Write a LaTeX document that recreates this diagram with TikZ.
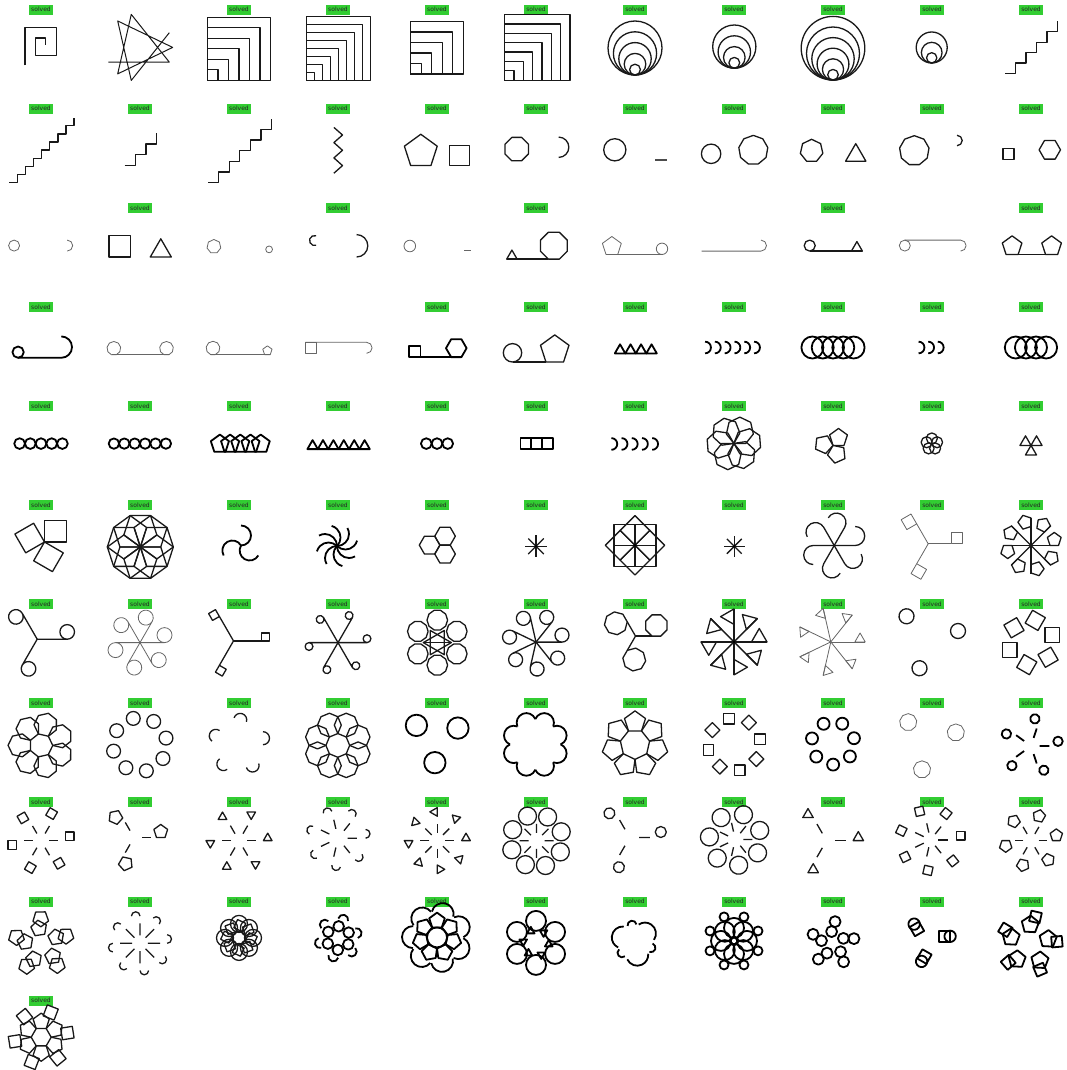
\documentclass[tikz,border=0pt]{standalone}
\usepackage{fontspec}
\setmainfont{DejaVu Sans}
\definecolor{solvedgreen}{RGB}{50,205,50}

% turtle polygon: start point, heading, sides, side length
\newcommand{\tpoly}[5][]{%
  \draw[#1] #2 \foreach \k in {2,...,#4}{ -- ++({#3+(\k-2)*360/#4}:#5)} -- cycle;}
% regular polygon: centre, sides, circumradius, angle of first corner
\newcommand{\rpoly}[5][]{%
  \draw[#1, shift={#2}] ({#5}:#4) \foreach \k in {1,...,#3}{ -- ({#5+\k*360/#3}:#4)} -- cycle;}
% green tag above cell (col,row)
\newcommand{\solved}[2]{\node[tag] (s#2-#1) at ({41+99*#1},{-9.6-99.1*#2}) {solved};}

\begin{document}
\begin{tikzpicture}[
  x=1pt, y=1pt,
  tag/.style={fill=solvedgreen, minimum width=24pt, minimum height=10pt,
              inner sep=0pt, text=black!85, font=\fontsize{6}{7}\selectfont},
  ln/.style={line width=1.3pt, black!90, line join=round},
  lnthin/.style={line width=0.8pt, black!60, line join=round},
  lnbold/.style={line width=1.8pt, black, line join=round},
  cell/.style 2 args={shift={({41+99*#1},{-49-99.1*#2})}}
]
  \fill[white] (0,0) rectangle (1066,-1070);
  \useasboundingbox (0,0) rectangle (1066,-1070);

  % Row 0: spiral, star, nested squares and circles
  \solved{0}{0}
  \begin{scope}[cell={0}{0}]
    \draw[ln] (-16,-16.5) -- (-16,21.4) -- (15.2,21.4) -- (15.2,-6.2) -- (-5.5,-6.2) -- (-5.5,11) -- (4.8,11) -- (4.8,4.1);
  \end{scope}
  \begin{scope}[cell={1}{0}]
    \draw[ln, line width=1pt] (-31.7,-13.1) \foreach \k in {0,...,6}{ -- ++({\k*900/7}:61)};
  \end{scope}
  \solved{2}{0}
  \begin{scope}[cell={2}{0}]
    \foreach \n in {1,...,6}{ \draw[ln] (-31.5,-31.2) rectangle ++(10.5*\n,10.5*\n); }
  \end{scope}
  \solved{3}{0}
  \begin{scope}[cell={3}{0}]
    \foreach \n in {1,...,8}{ \draw[ln] (-31.5,-31.2) rectangle ++(8*\n,8*\n); }
  \end{scope}
  \solved{4}{0}
  \begin{scope}[cell={4}{0}]
    \foreach \n in {1,...,5}{ \draw[ln] (-26.2,-25) rectangle ++(10.5*\n,10.5*\n); }
  \end{scope}
  \solved{5}{0}
  \begin{scope}[cell={5}{0}]
    \foreach \n in {1,...,7}{ \draw[ln] (-31.5,-31.2) rectangle ++(9.35*\n,9.35*\n); }
  \end{scope}
  \solved{6}{0}
  \begin{scope}[cell={6}{0}]
    \foreach \n in {1,...,5}{ \draw[ln] (0,{-26+5.4*\n}) circle[radius=5.4*\n]; }
  \end{scope}
  \solved{7}{0}
  \begin{scope}[cell={7}{0}]
    \foreach \n in {1,...,4}{ \draw[ln] (0.3,{-19.2+5.4*\n}) circle[radius=5.4*\n]; }
  \end{scope}
  \solved{8}{0}
  \begin{scope}[cell={8}{0}]
    \foreach \n in {1,...,6}{ \draw[ln] (0,{-31+5.3*\n}) circle[radius=5.3*\n]; }
  \end{scope}
  \solved{9}{0}
  \begin{scope}[cell={9}{0}]
    \foreach \n in {1,...,3}{ \draw[ln] (-0.3,{-14+5.17*\n}) circle[radius=5.17*\n]; }
  \end{scope}
  \solved{10}{0}
  \begin{scope}[cell={10}{0}]
    \draw[ln] (-25.7,-24.4) \foreach \k in {1,...,5}{ -- ++(10.4,0) -- ++(0,10.4)};
  \end{scope}

  % Row 1: stairs, zigzag, shape pairs
  \solved{0}{1}
  \begin{scope}[cell={0}{1}]
    \draw[ln] (-31.7,-34.4) \foreach \k in {1,...,8}{ -- ++(8.1,0) -- ++(0,8.1)};
  \end{scope}
  \solved{1}{1}
  \begin{scope}[cell={1}{1}]
    \draw[ln] (-15.5,-17.2) \foreach \k in {1,...,3}{ -- ++(10.7,0) -- ++(0,10.7)};
  \end{scope}
  \solved{2}{1}
  \begin{scope}[cell={2}{1}]
    \draw[ln] (-31,-34.4) \foreach \k in {1,...,6}{ -- ++(10.6,0) -- ++(0,10.6)};
  \end{scope}
  \solved{3}{1}
  \begin{scope}[cell={3}{1}]
    \draw[ln] (-4.1,20.7) -- (4.5,13.1) -- (-4.1,5.5) -- (4.5,-2.2) -- (-4.1,-9.8) -- (4.5,-17.5) -- (-4.1,-25.1);
  \end{scope}
  \solved{4}{1}
  \begin{scope}[cell={4}{1}]
    \tpoly[ln]{(-26.35,-17.4)}{0}{5}{20.3}
    \draw[ln] (12.7,-17.2) rectangle (32.4,2.8);
  \end{scope}
  \solved{5}{1}
  \begin{scope}[cell={5}{1}]
    \tpoly[ln]{(-24.15,-12.7)}{0}{8}{9.7}
    \draw[ln] (22.7,11) arc[start angle=90,end angle=-90,radius=10.15];
  \end{scope}
  \solved{6}{1}
  \begin{scope}[cell={6}{1}]
    \draw[ln] (-20.2,-1.7) circle[radius=11.1];
    \draw[line width=1.6pt, black!70] (20.2,-11.7) -- (31.5,-11.7);
  \end{scope}
  \solved{7}{1}
  \begin{scope}[cell={7}{1}]
    \draw[ln] (-22.9,-5.7) circle[radius=9.7];
    \tpoly[ln]{(14.27,-15.8)}{0}{9}{10.06}
  \end{scope}
  \solved{8}{1}
  \begin{scope}[cell={8}{1}]
    \tpoly[ln]{(-26.4,-13.1)}{0}{7}{10}
    \tpoly[ln]{(12.6,-13.1)}{0}{3}{20.3}
  \end{scope}
  \solved{9}{1}
  \begin{scope}[cell={9}{1}]
    \tpoly[ln]{(-22.8,-16.5)}{0}{9}{10.2}
    \draw[ln] (25,12.8) arc[start angle=90,end angle=-90,radius=5.2];
  \end{scope}
  \solved{10}{1}
  \begin{scope}[cell={10}{1}]
    \draw[ln] (-28,-11.4) rectangle (-17,-0.4);
    \tpoly[ln]{(13.45,-11)}{0}{6}{10.7}
  \end{scope}

  % Row 2: small pairs, joined pairs
  \begin{scope}[cell={0}{2}]
    \draw[lnthin] (-26.9,1.6) circle[radius=5.5];
    \draw[lnthin] (26.2,7.1) arc[start angle=90,end angle=-90,radius=5.5];
  \end{scope}
  \solved{1}{2}
  \begin{scope}[cell={1}{2}]
    \draw[ln] (-31,-9.8) rectangle ++(21.3,21.3);
    \tpoly[ln]{(10.3,-9.8)}{0}{3}{21}
  \end{scope}
  \begin{scope}[cell={2}{2}]
    \tpoly[lnthin]{(-28.15,-5.6)}{0}{7}{6.1}
    \draw[lnthin] (30.1,-2.2) circle[radius=3.4];
  \end{scope}
  \solved{3}{2}
  \begin{scope}[cell={3}{2}]
    \draw[ln] (-21.8,11.4) arc[start angle=70,end angle=290,radius=5];
    \draw[ln] (18.6,12.6) arc[start angle=90,end angle=-90,radius=11.2];
  \end{scope}
  \begin{scope}[cell={4}{2}]
    \draw[lnthin] (-27.2,1.2) circle[radius=5.8];
    \draw[lnthin] (27.2,-3.6) -- (33.7,-3.6);
  \end{scope}
  \solved{5}{2}
  \begin{scope}[cell={5}{2}]
    \tpoly[ln]{(-29.3,-11.9)}{0}{3}{10.4}
    \draw[ln] (-29.3,-11.9) -- (12.35,-11.9);
    \tpoly[ln]{(12.35,-11.9)}{0}{8}{11.1}
  \end{scope}
  \begin{scope}[cell={6}{2}]
    \tpoly[lnthin]{(-29,-7.3)}{0}{5}{11.7}
    \draw[lnthin] (-29,-7.3) -- (27,-7.3);
    \draw[lnthin] (27,-1.6) circle[radius=5.7];
  \end{scope}
  \begin{scope}[cell={7}{2}]
    \draw[lnthin] (-32.4,-3.9) -- (27,-3.9) arc[start angle=-90,end angle=90,radius=5.5];
  \end{scope}
  \solved{8}{2}
  \begin{scope}[cell={8}{2}]
    \draw[ln] (-23.3,1.6) circle[radius=5.5];
    \draw[ln] (-23.3,-3.9) -- (29.4,-3.9);
    \tpoly[ln]{(18.4,-3.9)}{0}{3}{11}
  \end{scope}
  \begin{scope}[cell={9}{2}]
    \draw[lnthin] (-27.2,1.6) circle[radius=5.5];
    \draw[lnthin] (-27.2,7.1) -- (28.6,7.1) arc[start angle=90,end angle=-90,radius=5.5];
  \end{scope}
  \solved{10}{2}
  \begin{scope}[cell={10}{2}]
    \tpoly[ln]{(-24.96,-7.3)}{0}{5}{12.1}
    \tpoly[ln]{(14.54,-7.3)}{0}{5}{12.1}
    \draw[ln] (-24.96,-7.3) -- (26.64,-7.3);
  \end{scope}

  % Row 3: joined pairs, rows of shapes
  \solved{0}{3}
  \begin{scope}[cell={0}{3}]
    \draw[lnbold] (-22.9,-5.85) circle[radius=5.65];
    \draw[lnbold] (-22.9,-11.5) -- (20.3,-11.5) arc[start angle=-90,end angle=90,radius=10.7];
  \end{scope}
  \begin{scope}[cell={1}{3}]
    \tpoly[lnthin]{(-28.5,-8.5)}{0}{9}{4.7}
    \tpoly[lnthin]{(24.15,-8.5)}{0}{9}{4.7}
    \draw[lnthin] (-28.5,-8.5) -- (28.85,-8.5);
  \end{scope}
  \begin{scope}[cell={2}{3}]
    \tpoly[lnthin]{(-28.35,-8.3)}{0}{9}{4.7}
    \tpoly[lnthin]{(25.56,-8.3)}{0}{5}{5.7}
    \draw[lnthin] (-28.35,-8.3) -- (31.26,-8.3);
  \end{scope}
  \begin{scope}[cell={3}{3}]
    \draw[lnthin] (-32.7,-7) rectangle ++(11,11);
    \draw[lnthin] (-32.7,4) -- (28.6,4) arc[start angle=90,end angle=-90,radius=5.5];
  \end{scope}
  \solved{4}{3}
  \begin{scope}[cell={4}{3}]
    \draw[lnbold] (-27.9,-10.8) rectangle ++(11.3,11.3);
    \draw[lnbold] (-27.9,-10.8) -- (24.45,-10.8);
    \tpoly[lnbold]{(14.15,-10.8)}{0}{6}{10.3}
  \end{scope}
  \solved{5}{3}
  \begin{scope}[cell={5}{3}]
    \draw[ln] (-23.5,-6.5) circle[radius=9.2];
    \draw[ln] (-23.5,-15.7) -- (9.94,-15.7);
    \tpoly[ln]{(9.94,-15.7)}{0}{5}{17.6}
  \end{scope}
  \solved{6}{3}
  \begin{scope}[cell={6}{3}]
    \foreach \n in {0,...,3}{ \tpoly[lnbold]{({-20.2+10.5*\n},-7.1)}{0}{3}{10.5} }
  \end{scope}
  \solved{7}{3}
  \begin{scope}[cell={7}{3}]
    \foreach \n in {0,...,5}{ \draw[lnbold] ({-28.9+9.8*\n},4.65) arc[start angle=90,end angle=-90,radius=5.85]; }
  \end{scope}
  \solved{8}{3}
  \begin{scope}[cell={8}{3}]
    \foreach \n in {0,...,4}{ \draw[lnbold] ({-20.6+10.3*\n},-1.2) circle[radius=11]; }
  \end{scope}
  \solved{9}{3}
  \begin{scope}[cell={9}{3}]
    \foreach \n in {0,...,2}{ \draw[lnbold] ({-13.4+9.6*\n},4.65) arc[start angle=90,end angle=-90,radius=5.85]; }
  \end{scope}
  \solved{10}{3}
  \begin{scope}[cell={10}{3}]
    \foreach \n in {0,...,3}{ \draw[lnbold] ({-15.2+10.1*\n},-1.2) circle[radius=11]; }
  \end{scope}

  % Row 4: rows of small shapes, small rosettes
  \solved{0}{4}
  \begin{scope}[cell={0}{4}]
    \foreach \n in {0,...,4}{ \draw[lnbold] ({-21.4+10.7*\n},1.8) circle[radius=5.35]; }
  \end{scope}
  \solved{1}{4}
  \begin{scope}[cell={1}{4}]
    \foreach \n in {0,...,5}{ \draw[lnbold] ({-26.1+10.4*\n},1.8) circle[radius=5.2]; }
  \end{scope}
  \solved{2}{4}
  \begin{scope}[cell={2}{4}]
    \foreach \n in {0,...,4}{ \tpoly[lnbold]{({-24.7+10.2*\n},-6.4)}{0}{5}{11.2} }
  \end{scope}
  \solved{3}{4}
  \begin{scope}[cell={3}{4}]
    \foreach \n in {0,...,5}{ \tpoly[lnbold]{({-30.6+10.4*\n},-3.7)}{0}{3}{10.4} }
  \end{scope}
  \solved{4}{4}
  \begin{scope}[cell={4}{4}]
    \foreach \n in {-1,0,1}{ \draw[lnbold] ({10.7*\n},1.8) circle[radius=5.35]; }
  \end{scope}
  \solved{5}{4}
  \begin{scope}[cell={5}{4}]
    \foreach \n in {0,1,2}{ \draw[lnbold] ({-15.5+10.8*\n},-3.7) rectangle ++(10.8,10.8); }
  \end{scope}
  \solved{6}{4}
  \begin{scope}[cell={6}{4}]
    \foreach \n in {0,...,4}{ \draw[lnbold] ({-23.6+10.2*\n},7.3) arc[start angle=90,end angle=-90,radius=5.85]; }
  \end{scope}
  \solved{7}{4}
  \begin{scope}[cell={7}{4}, shift={(-0.15,2)}]
    \foreach \a in {0,60,...,300}{ \tpoly[ln,rotate=\a]{(0,0)}{0}{7}{12} }
  \end{scope}
  \solved{8}{4}
  \begin{scope}[cell={8}{4}]
    \foreach \a in {0,120,240}{ \tpoly[ln,rotate=\a]{(0,0)}{0}{5}{11} }
  \end{scope}
  \solved{9}{4}
  \begin{scope}[cell={9}{4}, shift={(-0.15,1.45)}]
    \foreach \a in {90,162,...,378}{ \draw[ln] (\a:5.5) circle[radius=5.5]; }
  \end{scope}
  \solved{10}{4}
  \begin{scope}[cell={10}{4}]
    \foreach \a in {0,120,240}{ \tpoly[ln,rotate=\a]{(0,0)}{0}{3}{11} }
  \end{scope}

  % Row 5: shapes turned about a centre
  \solved{0}{5}
  \begin{scope}[cell={0}{5}, shift={(3.5,2.5)}]
    \foreach \a in {0,120,240}{ \tpoly[ln,rotate=\a]{(0,0)}{0}{4}{21.7} }
  \end{scope}
  \solved{1}{5}
  \begin{scope}[cell={1}{5}, shift={(0.35,-2.45)}]
    \foreach \a in {0,36,...,324}{ \tpoly[ln,rotate=\a]{(0,0)}{0}{5}{20.4} }
  \end{scope}
  \solved{2}{5}
  \begin{scope}[cell={2}{5}, shift={(2,-1)}]
    \foreach \a in {0,120,240}{ \draw[lnbold,rotate=\a] (0,0) arc[start angle=-90,end angle=90,radius=10]; }
  \end{scope}
  \solved{3}{5}
  \begin{scope}[cell={3}{5}, shift={(-1,-1.5)}]
    \foreach \a in {0,45,...,315}{ \draw[lnbold,rotate=\a] (0,0) arc[start angle=-90,end angle=30,radius=12]; }
  \end{scope}
  \solved{4}{5}
  \begin{scope}[cell={4}{5}, shift={(2.9,-0.6)}]
    \foreach \a in {60,180,300}{ \rpoly[ln]{(\a:10.3)}{6}{10.3}{0} }
  \end{scope}
  \solved{5}{5}
  \begin{scope}[cell={5}{5}, shift={(0,-1.8)}]
    \foreach \a in {0,45,...,315}{ \draw[ln] (0,0) -- (\a:11); }
    \fill (0,0) circle[radius=1.4];
  \end{scope}
  \solved{6}{5}
  \begin{scope}[cell={6}{5}, shift={(0,-0.8)}]
    \foreach \a in {0,45,...,315}{ \tpoly[ln,rotate=\a]{(0,0)}{0}{4}{21} }
    \fill (0,0) circle[radius=1.5];
  \end{scope}
  \solved{7}{5}
  \begin{scope}[cell={7}{5}, shift={(0.3,-1.8)}]
    \foreach \a in {0,45,...,315}{ \draw[ln] (0,0) -- (\a:10.5); }
    \fill (0,0) circle[radius=1.3];
  \end{scope}
  \solved{8}{5}
  \begin{scope}[cell={8}{5}, shift={(1.2,-1)}]
    \foreach \a in {0,60,...,300}{ \draw[ln,rotate=\a] (0,0) -- (21,0) arc[start angle=-90,end angle=90,radius=9.5]; }
  \end{scope}
  \solved{9}{5}
  \begin{scope}[cell={9}{5}, shift={(-3.8,0.7)}]
    \foreach \a in {0,120,240}{
      \draw[lnthin,rotate=\a] (0,0) -- (23,0);
      \tpoly[lnthin,rotate=\a]{(23,0)}{0}{4}{11.4} }
  \end{scope}
  \solved{10}{5}
  \begin{scope}[cell={10}{5}, shift={(0,-1)}]
    \foreach \a in {0,45,...,315}{
      \draw[ln,rotate=\a] (0,0) -- (28,0);
      \tpoly[ln,rotate=\a]{(19,0)}{0}{5}{8.5} }
  \end{scope}

  % Row 6: spokes ending in shapes
  \solved{0}{6}
  \begin{scope}[cell={0}{6}, shift={(-3.8,4.4)}]
    \foreach \a in {0,120,240}{ \draw[ln,rotate=\a] (0,0) -- (30,0) (30,7.3) circle[radius=7.3]; }
  \end{scope}
  \solved{1}{6}
  \begin{scope}[cell={1}{6}, shift={(0,1)}]
    \foreach \a in {0,60,...,300}{ \draw[lnthin,rotate=\a] (0,0) -- (24.5,0) (24.5,7.5) circle[radius=7.5]; }
  \end{scope}
  \solved{2}{6}
  \begin{scope}[cell={2}{6}, shift={(-5.5,2.7)}]
    \foreach \a in {0,120,240}{
      \draw[ln,rotate=\a] (0,0) -- (28.2,0);
      \tpoly[ln,rotate=\a]{(28.2,0)}{0}{4}{7.9} }
  \end{scope}
  \solved{3}{6}
  \begin{scope}[cell={3}{6}, shift={(0,1)}]
    \foreach \a in {0,60,...,300}{ \draw[ln,rotate=\a] (0,0) -- (29,0) (29,3.9) circle[radius=3.9]; }
  \end{scope}
  \solved{4}{6}
  \begin{scope}[cell={4}{6}, shift={(0.3,1)}]
    \foreach \a in {30,90,...,330}{ \rpoly[ln]{(\a:22.5)}{10}{10.3}{0} }
    \draw[ln] (0:14) -- (120:14) -- (240:14) -- cycle;
    \draw[ln] (60:14) -- (180:14) -- (300:14) -- cycle;
    \draw[ln] (180:14) -- (0:14);
  \end{scope}
  \solved{5}{6}
  \begin{scope}[cell={5}{6}, shift={(0,1.5)}]
    \foreach \n in {0,...,6}{ \draw[ln,rotate={\n*360/7}] (0,0) -- (26,0) (26,7) circle[radius=7]; }
  \end{scope}
  \solved{6}{6}
  \begin{scope}[cell={6}{6}, shift={(0.5,7.5)}]
    \foreach \a in {0,120,240}{
      \draw[ln,rotate=\a] (0,0) -- (16.5,0);
      \tpoly[ln,rotate=\a]{(16.5,0)}{0}{8}{8.8} }
  \end{scope}
  \solved{7}{6}
  \begin{scope}[cell={7}{6}, shift={(0,1.7)}]
    \foreach \a in {0,45,...,315}{
      \draw[ln,rotate=\a] (0,0) -- (33,0);
      \tpoly[ln,rotate=\a]{(17.5,0)}{0}{3}{15.5} }
    \fill (0,0) circle[radius=1.5];
  \end{scope}
  \solved{8}{6}
  \begin{scope}[cell={8}{6}, shift={(-2.2,1.7)}]
    \foreach \n in {0,...,6}{
      \draw[lnthin,rotate={\n*360/7}] (0,0) -- (34.4,0);
      \tpoly[lnthin,rotate={\n*360/7}]{(24.1,0)}{0}{3}{10.3} }
  \end{scope}
  \solved{9}{6}
  \begin{scope}[cell={9}{6}, shift={(-4,5.1)}]
    \foreach \a in {0,120,240}{ \draw[ln,rotate=\a] (30,7.5) circle[radius=7.5]; }
  \end{scope}
  \solved{10}{6}
  \begin{scope}[cell={10}{6}, shift={(0,1.1)}]
    \foreach \a in {0,60,...,300}{ \tpoly[ln,rotate=\a]{(13.9,0)}{0}{4}{14.8} }
  \end{scope}

  % Row 7: rings of shapes
  \solved{0}{7}
  \begin{scope}[cell={0}{7}, shift={(0,-2.7)}]
    \foreach \n in {0,...,6}{ \tpoly[ln,rotate={-13+\n*360/7}]{(-5.1,10.59)}{0}{7}{10.2} }
  \end{scope}
  \solved{1}{7}
  \begin{scope}[cell={1}{7}, shift={(-0.2,-1.9)}]
    \foreach \n in {0,...,7}{ \draw[ln] ({14+45*\n}:27) circle[radius=6.9]; }
  \end{scope}
  \solved{2}{7}
  \begin{scope}[cell={2}{7}, shift={(0,-2)}]
    \foreach \n in {0,...,4}{ \draw[ln,rotate=72*\n] (24,0) arc[start angle=-90,end angle=90,radius=6.5]; }
  \end{scope}
  \solved{3}{7}
  \begin{scope}[cell={3}{7}, shift={(-0.2,-2.7)}]
    \foreach \n in {0,...,7}{ \tpoly[ln,rotate={22.5+45*\n}]{(-4.55,10.98)}{0}{8}{9.1} }
  \end{scope}
  \solved{4}{7}
  \begin{scope}[cell={4}{7}, shift={(-0.6,4)}]
    \foreach \a in {26.3,146.3,266.3}{ \draw[lnbold] (\a:24) circle[radius=10.7]; }
  \end{scope}
  \solved{5}{7}
  \begin{scope}[cell={5}{7}, shift={(-0.7,-1.7)}]
    \foreach \n in {0,...,7}{ \draw[lnbold,rotate={22.5+45*\n}] (9.7,23.4) arc[start angle=0,end angle=180,radius=9.7]; }
  \end{scope}
  \solved{6}{7}
  \begin{scope}[cell={6}{7}, shift={(0,-1.7)}]
    \foreach \n in {0,...,6}{ \tpoly[ln,rotate={\n*360/7}]{(-6.5,13.5)}{0}{5}{13} }
  \end{scope}
  \solved{7}{7}
  \begin{scope}[cell={7}{7}, shift={(0.3,-1.9)}]
    \foreach \a in {0,45,...,315}{ \tpoly[ln,rotate=\a]{(20.5,0)}{0}{4}{10.6} }
  \end{scope}
  \solved{8}{7}
  \begin{scope}[cell={8}{7}, shift={(0,-0.4)}]
    \foreach \n in {0,...,6}{ \draw[lnbold] ({-89.7+\n*360/7}:21.5) circle[radius=6]; }
  \end{scope}
  \solved{9}{7}
  \begin{scope}[cell={9}{7}]
    \rpoly[lnthin]{(-23.8,20.5)}{9}{8.6}{90}
    \rpoly[lnthin]{(23.8,10.2)}{9}{8.6}{90}
    \rpoly[lnthin]{(-10,-26.7)}{9}{8.6}{90}
  \end{scope}
  \solved{10}{7}
  \begin{scope}[cell={10}{7}, shift={(0,-3.3)}]
    \foreach \a in {0,72,...,288}{ \draw[lnbold,rotate=\a] (8.5,0) -- (18.4,0) (27,4.7) circle[radius=4.7]; }
  \end{scope}

  % Row 8: broken spokes ending in shapes
  \solved{0}{8}
  \begin{scope}[cell={0}{8}, shift={(0,1.2)}]
    \foreach \a in {0,60,...,300}{
      \draw[ln,rotate=\a] (8.2,0) -- (16.9,0);
      \tpoly[ln,rotate=\a]{(24.4,0)}{0}{4}{8.6} }
  \end{scope}
  \solved{1}{8}
  \begin{scope}[cell={1}{8}, shift={(-6,4.3)}]
    \foreach \a in {0,120,240}{
      \draw[ln,rotate=\a] (8,0) -- (17.4,0);
      \tpoly[ln,rotate=\a]{(22.5,0)}{0}{5}{8.5} }
  \end{scope}
  \solved{2}{8}
  \begin{scope}[cell={2}{8}, shift={(0,1.2)}]
    \foreach \a in {0,60,...,300}{
      \draw[ln,rotate=\a] (8,0) -- (17.3,0);
      \tpoly[ln,rotate=\a]{(24.4,0)}{0}{3}{8.6} }
  \end{scope}
  \solved{3}{8}
  \begin{scope}[cell={3}{8}, shift={(0,3.6)}]
    \foreach \n in {0,...,6}{
      \draw[ln,rotate={\n*360/7}] (9.6,0) -- (18.9,0) (27.6,0) arc[start angle=-90,end angle=90,radius=4.4]; }
  \end{scope}
  \solved{4}{8}
  \begin{scope}[cell={4}{8}, shift={(0.3,1.2)}]
    \foreach \a in {0,45,...,315}{
      \draw[ln,rotate=\a] (8,0) -- (17,0);
      \tpoly[ln,rotate=\a]{(24.4,0)}{0}{3}{8.6} }
  \end{scope}
  \solved{5}{8}
  \begin{scope}[cell={5}{8}, shift={(0.5,1)}]
    \foreach \a in {0,45,...,315}{ \draw[ln,rotate=\a] (8,0) -- (17,0) (24.7,9) circle[radius=9]; }
  \end{scope}
  \solved{6}{8}
  \begin{scope}[cell={6}{8}, shift={(-5.3,4.3)}]
    \foreach \a in {0,120,240}{ \draw[ln,rotate=\a] (9.5,0) -- (20.2,0) (31.1,5.5) circle[radius=5.5]; }
  \end{scope}
  \solved{7}{8}
  \begin{scope}[cell={7}{8}, shift={(1.3,2.4)}]
    \foreach \n in {0,...,6}{ \draw[ln,rotate={\n*360/7}] (8,0) -- (17,0) (24.4,9) circle[radius=9]; }
  \end{scope}
  \solved{8}{8}
  \begin{scope}[cell={8}{8}, shift={(-6.5,1.2)}]
    \foreach \a in {0,120,240}{
      \draw[ln,rotate=\a] (8.4,0) -- (19.1,0);
      \tpoly[ln,rotate=\a]{(26.6,0)}{0}{3}{10.4} }
  \end{scope}
  \solved{9}{8}
  \begin{scope}[cell={9}{8}, shift={(-1.5,1.9)}]
    \foreach \n in {0,...,6}{
      \draw[ln,rotate={\n*360/7}] (7.5,0) -- (17,0);
      \tpoly[ln,rotate={\n*360/7}]{(26,0)}{0}{4}{8.6} }
  \end{scope}
  \solved{10}{8}
  \begin{scope}[cell={10}{8}, shift={(0,1.2)}]
    \foreach \a in {0,60,...,300}{
      \draw[ln,rotate=\a] (7.7,0) -- (15.9,0);
      \tpoly[ln,rotate=\a]{(21.5,0)}{0}{5}{7.6} }
  \end{scope}

  % Row 9: compound rosettes
  \solved{0}{9}
  \begin{scope}[cell={0}{9}, shift={(0.36,-3.7)}]
    \foreach \n in {0,...,4}{
      \rpoly[ln]{({26.5+72*\n}:16.4)}{5}{8.2}{26.5+72*\n}
      \rpoly[ln]{({19.5+72*\n}:26)}{5}{8.2}{55.5+72*\n} }
  \end{scope}
  \solved{1}{9}
  \begin{scope}[cell={1}{9}, shift={(0,-2.4)}]
    \foreach \a in {0,45,...,315}{
      \draw[ln,rotate=\a] (7.9,0) -- (20,0) (27.2,0) arc[start angle=-90,end angle=90,radius=4.3]; }
  \end{scope}
  \solved{2}{9}
  \begin{scope}[cell={2}{9}, shift={(0,3)}]
    \draw[ln] (0,0) circle[radius=6.5];
    \foreach \n in {0,...,7}{
      \draw[ln] ({45*\n}:14) circle[radius=8.5];
      \tpoly[ln,rotate={45*\n+20}]{(7,0)}{0}{4}{9} }
  \end{scope}
  \solved{3}{9}
  \begin{scope}[cell={3}{9}, shift={(0.25,2.8)}]
    \foreach \n in {0,...,5}{
      \draw[lnbold] ({28+60*\n}:11.8) circle[radius=5.3];
      \draw[lnbold,rotate={15+60*\n}] (19,-5) arc[start angle=-90,end angle=90,radius=5]; }
  \end{scope}
  \solved{4}{9}
  \begin{scope}[cell={4}{9}, shift={(0,3.5)}]
    \draw[lnbold] (0,0) circle[radius=10];
    \foreach \n in {0,...,6}{
      \tpoly[lnbold,rotate={\n*360/7}]{(-4.8,10)}{0}{5}{9.6}
      \draw[lnbold,rotate={\n*360/7+25}] (24,-11) arc[start angle=-90,end angle=90,radius=11]; }
  \end{scope}
  \solved{5}{9}
  \begin{scope}[cell={5}{9}, shift={(0,-2)}]
    \foreach \n in {0,...,5}{
      \draw[lnbold] ({90+60*\n}:22) circle[radius=10];
      \tpoly[lnbold,rotate={60*\n}]{(9,-3.5)}{0}{3}{7.5} }
  \end{scope}
  \solved{6}{9}
  \begin{scope}[cell={6}{9}, shift={(0,-1)}]
    \foreach \n in {0,1,2}{
      \draw[lnbold,rotate={40+120*\n}] (13,0) ++(-75:11) arc[start angle=-75,end angle=85,radius=11];
      \draw[lnbold,rotate={100+120*\n}] (17,0) ++(-90:4.5) arc[start angle=-90,end angle=90,radius=4.5]; }
  \end{scope}
  \solved{7}{9}
  \begin{scope}[cell={7}{9}]
    \draw[lnbold] (0,0) circle[radius=4];
    \foreach \n in {0,...,7}{
      \draw[lnbold] ({45*\n}:13) circle[radius=10];
      \draw[lnbold] ({45*\n+22.5}:26) circle[radius=4.5]; }
  \end{scope}
  \solved{8}{9}
  \begin{scope}[cell={8}{9}, shift={(-0.2,-2.2)}]
    \foreach \n in {0,...,4}{
      \draw[lnbold] ({24+72*\n}:11.6) circle[radius=5.5];
      \draw[lnbold] ({12+72*\n}:21.6) circle[radius=5.5]; }
  \end{scope}
  \solved{9}{9}
  \begin{scope}[cell={9}{9}, shift={(-3.4,0.3)}]
    \foreach \n in {0,1,2}{
      \tpoly[lnbold,rotate={120*\n}]{(10.6,-1)}{0}{4}{10.6}
      \draw[lnbold,rotate={120*\n}] (21.5,4.3) circle[radius=5.7]; }
  \end{scope}
  \solved{10}{9}
  \begin{scope}[cell={10}{9}, shift={(-1.8,-3.2)}]
    \foreach \n in {0,...,4}{
      \rpoly[lnbold]{({15+72*\n}:19.5)}{5}{9}{15+72*\n}
      \rpoly[lnbold]{({5+72*\n}:27.8)}{4}{7.5}{50+72*\n} }
  \end{scope}

  % Row 10: pentagons and squares round a hexagon
  \solved{0}{10}
  \begin{scope}[cell={0}{10}, shift={(0.2,2.8)}]
    \foreach \n in {0,...,5}{
      \tpoly[ln,rotate={60*\n-60}]{(-5,8.66)}{0}{5}{10}
      \rpoly[ln]{({9+60*\n}:26.5)}{4}{8.3}{54+60*\n} }
  \end{scope}
\end{tikzpicture}
\end{document}
